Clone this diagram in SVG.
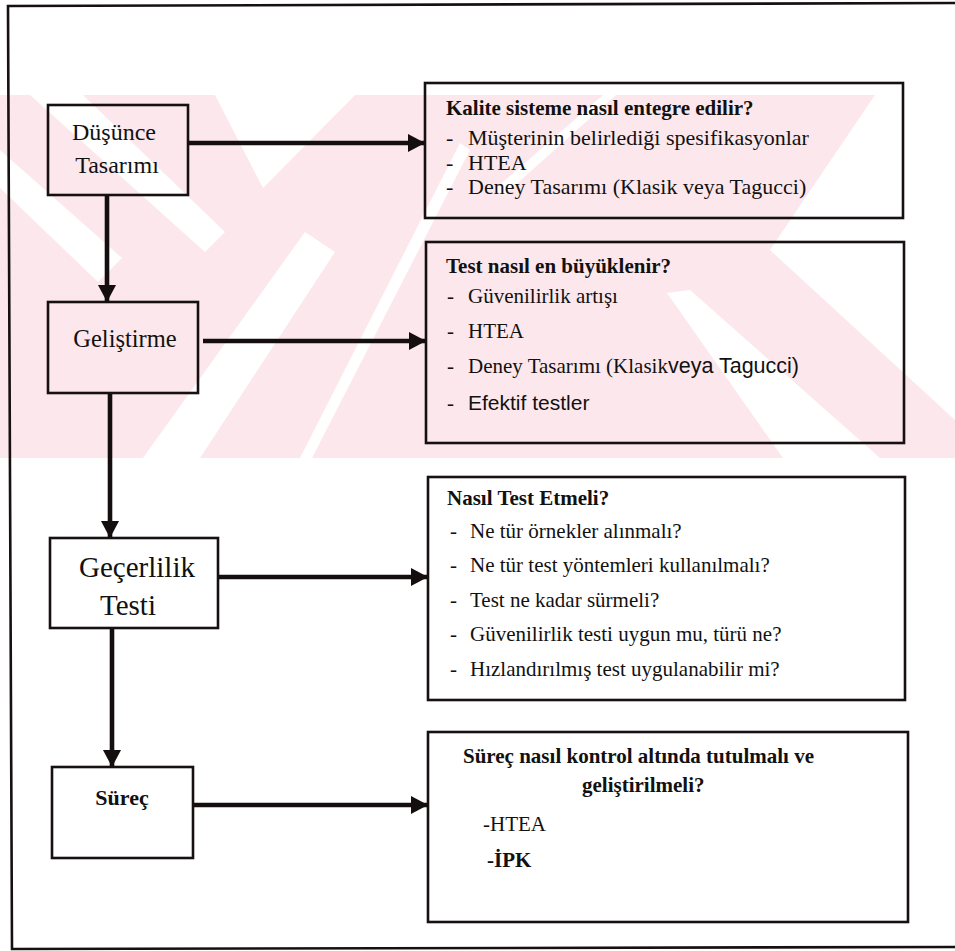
<svg xmlns="http://www.w3.org/2000/svg" width="955" height="951" viewBox="0 0 955 951">
  <style>
    .box { fill: none; stroke: #161010; stroke-width: 2.6; }
    .frame { fill: none; stroke: #161010; stroke-width: 2.6; }
    .link { fill: none; stroke: #140e0e; stroke-width: 4.6; }
    .serif { font-family: "Liberation Serif", "Times New Roman", serif; fill: #111; }
    .sans { font-family: "Liberation Sans", Arial, sans-serif; fill: #111; }
    .head { font-weight: bold; font-size: 21px; }
    .item { font-size: 21px; }
    .item22 { font-size: 22px; }
    .wm { fill: #fce8ec; }
    .gap { fill: #ffffff; }
  </style>
  <defs>
    <marker id="arrow" markerUnits="userSpaceOnUse" markerWidth="17" markerHeight="18" refX="17" refY="9" orient="auto">
      <path d="M0,0 L17,9 L0,18 Z" fill="#140e0e"/>
    </marker>
    <clipPath id="band">
      <rect x="0" y="95" width="955" height="363"/>
    </clipPath>
  </defs>

  <rect x="0" y="0" width="955" height="951" fill="#ffffff"/>

  <!-- faint background mark: pink band broken by diagonal white gaps -->
  <g id="background-mark" clip-path="url(#band)">
    <polygon class="wm" points="0,95 875,95 770,250 955,420 955,458 0,458"/>
    <polygon class="gap" points="30,95 83,95 225,232 205,252"/>
    <polygon class="gap" points="0,150 0,188 98,282 122,258"/>
    <polygon class="gap" points="215,95 355,95 263,188"/>
    <polygon class="gap" points="143,458 200,458 335,252 305,232"/>
    <polygon class="gap" points="300,458 312,458 470,150 460,143"/>
    <polygon class="gap" points="494,190 504,195 616,95 603,95"/>
    <polygon class="gap" points="667,293 690,290 880,458 783,458"/>
  </g>

  <!-- outer frame -->
  <polyline class="frame" points="955,3 8,6 12,949 955,947"/>

  <!-- connectors -->
  <g id="connectors">
    <line class="link" x1="107" y1="195" x2="107" y2="302" marker-end="url(#arrow)"/>
    <line class="link" x1="110" y1="393" x2="110" y2="538" marker-end="url(#arrow)"/>
    <line class="link" x1="112" y1="628" x2="112" y2="767" marker-end="url(#arrow)"/>
    <line class="link" x1="188" y1="143" x2="425" y2="143" marker-end="url(#arrow)"/>
    <line class="link" x1="203" y1="341" x2="426" y2="341" marker-end="url(#arrow)"/>
    <line class="link" x1="218" y1="577" x2="428" y2="577" marker-end="url(#arrow)"/>
    <line class="link" x1="193" y1="805" x2="428" y2="805" marker-end="url(#arrow)"/>
  </g>

  <!-- stage nodes -->
  <g id="node-dusunce">
    <rect class="box" x="48" y="105" width="140" height="90"/>
    <text class="serif" font-size="24" text-anchor="middle" x="114" y="140">Düşünce</text>
    <text class="serif" font-size="24" text-anchor="middle" x="117" y="173">Tasarımı</text>
  </g>
  <g id="node-gelistirme">
    <rect class="box" x="48" y="302" width="150" height="91"/>
    <text class="serif" font-size="24.5" text-anchor="middle" x="125" y="347">Geliştirme</text>
  </g>
  <g id="node-gecerlilik">
    <rect class="box" x="50" y="538" width="168" height="90"/>
    <text class="serif" font-size="29" text-anchor="middle" x="137" y="577">Geçerlilik</text>
    <text class="serif" font-size="29" text-anchor="middle" x="128" y="615">Testi</text>
  </g>
  <g id="node-surec">
    <rect class="box" x="52" y="767" width="141" height="91"/>
    <text class="serif" font-size="22" font-weight="bold" text-anchor="middle" x="122" y="805">Süreç</text>
  </g>

  <!-- question nodes -->
  <g id="node-kalite">
    <rect class="box" x="425" y="83" width="478" height="135"/>
    <text class="serif head" x="446" y="115">Kalite sisteme nasıl entegre edilir?</text>
    <text class="serif item22" x="446" y="145">-</text>
    <text class="serif item22" x="468" y="145">Müşterinin belirlediği spesifikasyonlar</text>
    <text class="serif item22" x="446" y="170">-</text>
    <text class="serif item22" x="468" y="170">HTEA</text>
    <text class="serif item22" x="446" y="194">-</text>
    <text class="serif item22" x="468" y="194">Deney Tasarımı (Klasik veya Tagucci)</text>
  </g>
  <g id="node-test">
    <rect class="box" x="426" y="242" width="478" height="201"/>
    <text class="serif head" x="446" y="273">Test nasıl en büyüklenir?</text>
    <text class="serif item" x="447" y="303">-</text>
    <text class="serif item" x="468" y="303">Güvenilirlik artışı</text>
    <text class="serif item" x="447" y="338">-</text>
    <text class="serif item" x="468" y="338">HTEA</text>
    <text class="serif item" x="447" y="373">-</text>
    <text class="serif item" x="468" y="373">Deney Tasarımı (Klasik<tspan class="sans" font-size="21.5">veya Tagucci)</tspan></text>
    <text class="serif item" x="447" y="410">-</text>
    <text class="sans" font-size="21" x="468" y="410">Efektif testler</text>
  </g>
  <g id="node-nasil">
    <rect class="box" x="428" y="477" width="477" height="223"/>
    <text class="serif head" x="447" y="505">Nasıl Test Etmeli?</text>
    <text class="serif item" x="450" y="538">-</text>
    <text class="serif item" x="470" y="538">Ne tür örnekler alınmalı?</text>
    <text class="serif item" x="450" y="572">-</text>
    <text class="serif item" x="470" y="572">Ne tür test yöntemleri kullanılmalı?</text>
    <text class="serif item" x="450" y="607">-</text>
    <text class="serif item" x="470" y="607">Test ne kadar sürmeli?</text>
    <text class="serif item" x="450" y="641">-</text>
    <text class="serif item" x="470" y="641">Güvenilirlik testi uygun mu, türü ne?</text>
    <text class="serif item" x="450" y="676">-</text>
    <text class="serif item" x="470" y="676">Hızlandırılmış test uygulanabilir mi?</text>
  </g>
  <g id="node-surec-kontrol">
    <rect class="box" x="428" y="732" width="480" height="190"/>
    <text class="serif head" x="463" y="763">Süreç nasıl kontrol altında tutulmalı ve</text>
    <text class="serif head" x="582" y="792">geliştirilmeli?</text>
    <text class="serif item" x="483" y="831">-HTEA</text>
    <text class="serif head" x="487" y="867">-İPK</text>
  </g>
</svg>
